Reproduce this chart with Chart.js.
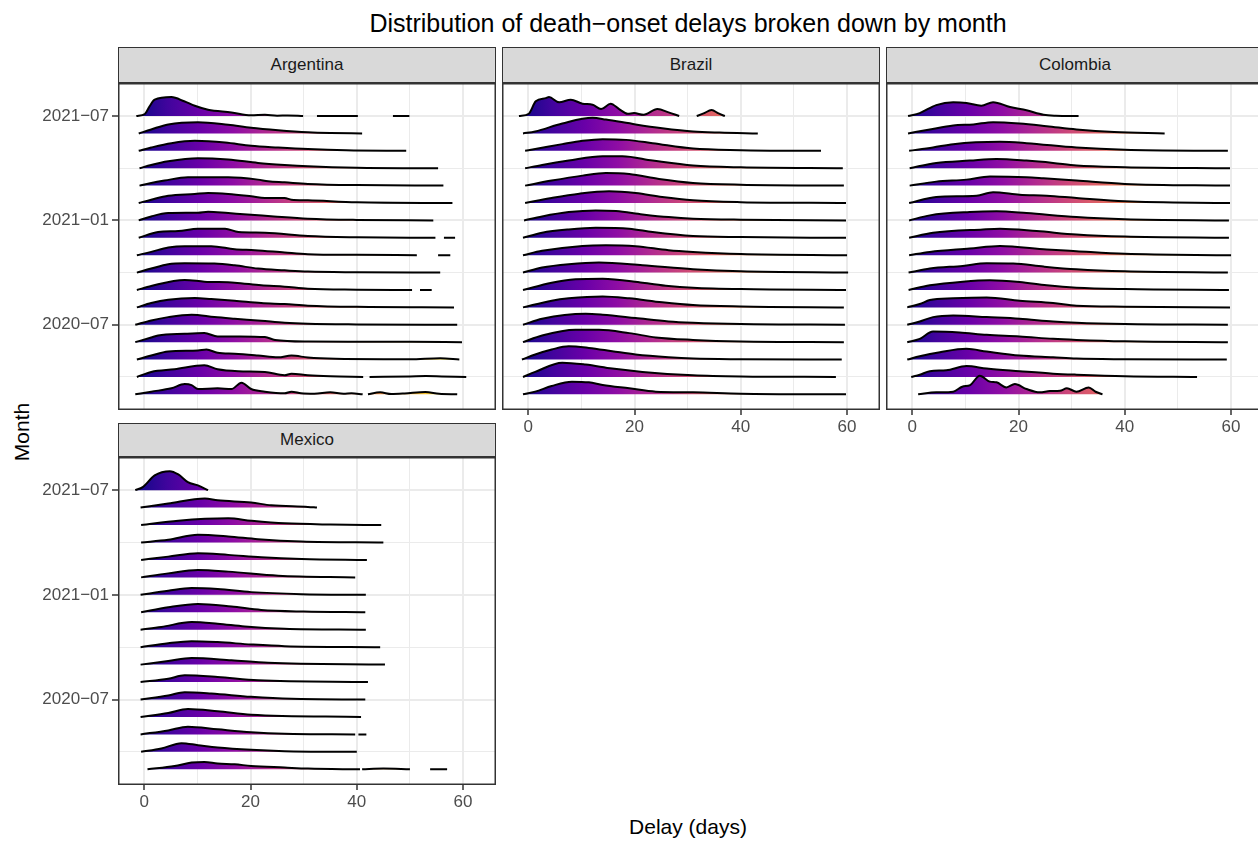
<!DOCTYPE html>
<html>
<head>
<meta charset="utf-8">
<script src="https://cdn.jsdelivr.net/npm/chart.js@4.4.1/dist/chart.umd.min.js"></script>
<style>
	html, body { margin: 0; padding: 0; background: #fff; overflow: hidden; }
	body { width: 1258px; height: 842px; position: relative; font-family: "Liberation Sans", Arial, sans-serif; }
	canvas { position: absolute; }
	.strip { position: absolute; box-sizing: border-box; background: #d9d9d9; border: 1.5px solid #333; color: #1a1a1a; font-size: 17px; display: flex; align-items: center; justify-content: center; }
	.lbl { position: absolute; white-space: nowrap; line-height: 1; transform: translate(-50%, -50%); color: #000; }
</style>
</head>
<body>
<div class="lbl" style="left:688px;top:23px;font-size:25px">Distribution of death−onset delays broken down by month</div>
<div class="lbl" style="left:688px;top:826px;font-size:21px">Delay (days)</div>
<div class="lbl" style="left:21px;top:432px;font-size:21px;transform:translate(-50%,-50%) rotate(-90deg)">Month</div>
<div class="strip" style="left:118px;top:47px;width:378px;height:36px">Argentina</div>
<div class="strip" style="left:502px;top:47px;width:378px;height:36px">Brazil</div>
<div class="strip" style="left:886px;top:47px;width:378px;height:36px">Colombia</div>
<div class="strip" style="left:118px;top:423px;width:378px;height:34px">Mexico</div>

<script>
(function () {
	'use strict';

	// one ridge per month, row 0 = 2020-03 ... row 16 = 2021-07
	var monthLabels = ['2020−03', '2020−04', '2020−05', '2020−06', '2020−07', '2020−08', '2020−09', '2020−10',
		'2020−11', '2020−12', '2021−01', '2021−02', '2021−03', '2021−04', '2021−05', '2021−06', '2021−07'];
	var monthBreaks = [4, 10, 16];
	var monthMinorBreaks = [1, 7, 13];
	var delayBreaks = [0, 20, 40, 60];
	var delayMinorBreaks = [10, 30, 50];

	// [delay in days, ridge height in rows]; a null height breaks the ridge
	var argentinaRidges = [
		[[-1.7,0],[1.3,0.155],[5.1,0.345],[7.6,0.59],[8.9,0.53],[10.1,0.305],[13.8,0.345],[16.4,0.305],[18.3,0.67],[20.1,0.305],[22.7,0.155],[26.4,0.057],[27.7,0.155],[29.5,0.057],[32,0.03],[35,0.115],[37.5,0.03],[39,0.06],[41.1,0],[41.6,null],[42.1,0],[44.4,0.115],[46.5,0.02],[49,0.05],[52.9,0.13],[55.5,0.03],[58.9,0]],
		[[-1.4,0],[1.3,0.29],[5.7,0.44],[11.3,0.67],[13.8,0.44],[17.7,0.33],[22.7,0.29],[26.4,0.10],[27.7,0.19],[30.8,0.10],[35,0.04],[41.2,0],[41.8,null],[42.4,0],[50,0.03],[53,0.05],[56,0.03],[60.6,0]],
		[[-1.4,0],[1.3,0.23],[4.5,0.46],[10.1,0.52],[11.7,0.575],[13.8,0.385],[17,0.33],[21.4,0.23],[25.2,0.13],[27.7,0.23],[30.8,0.115],[36,0.04],[45,0.02],[50,0.02],[55.7,0.08],[59.3,0]],
		[[-1.7,0],[1.3,0.27],[2.6,0.385],[7.6,0.48],[11.3,0.52],[13.8,0.33],[18,0.33],[22.7,0.29],[24.6,0.13],[30.8,0.04],[40,0.03],[50,0.02],[59.8,0]],
		[[-1.7,0],[1.3,0.25],[4.5,0.44],[8.9,0.575],[13.2,0.44],[17,0.345],[22,0.23],[26.4,0.115],[30.8,0.057],[40,0.02],[58.9,0]],
		[[-1.4,0],[1.3,0.25],[4.5,0.44],[9.5,0.535],[12.6,0.48],[17,0.385],[22,0.25],[26.4,0.19],[30.8,0.10],[40,0.03],[58.3,0]],
		[[-1.4,0],[1.3,0.23],[7.6,0.575],[11.3,0.48],[17,0.42],[22,0.27],[26.4,0.19],[30.8,0.075],[40,0.02],[50.4,0],[51.1,null],[51.9,0],[54.1,0]],
		[[-1.4,0],[1.3,0.23],[4.5,0.48],[7.6,0.535],[13.2,0.52],[17,0.42],[21.4,0.23],[26.4,0.13],[30.8,0.057],[40,0.02],[55.7,0]],
		[[-1.4,0],[1.3,0.19],[4.5,0.44],[7.6,0.52],[12.6,0.52],[17,0.345],[20.8,0.29],[26.4,0.155],[30.8,0.057],[40,0.02],[51.3,0],[53,null],[55.3,0],[57.6,0]],
		[[-1.05,0],[2.6,0.33],[6.4,0.385],[10.1,0.52],[15.2,0.52],[17.7,0.33],[22.7,0.29],[30.8,0.10],[40,0.03],[54.8,0],[55.6,null],[56.4,0],[58.5,0]],
		[[-1.05,0],[1.3,0.23],[4.5,0.42],[10.1,0.44],[12,0.50],[15.8,0.42],[20.1,0.33],[24.4,0.23],[30.8,0.10],[40,0.03],[54.4,0]],
		[[-1.05,0],[1.3,0.19],[4.5,0.42],[9.5,0.52],[12,0.575],[15.8,0.52],[20.1,0.385],[22.7,0.29],[26.4,0.29],[27.7,0.19],[30.8,0.155],[40,0.04],[58,0]],
		[[-0.9,0],[1.3,0.155],[3.8,0.29],[8.2,0.48],[15.8,0.48],[21.4,0.345],[23.3,0.25],[26.4,0.19],[30.8,0.10],[40,0.03],[56.3,0]],
		[[-0.9,0],[1.3,0.19],[4.5,0.40],[10.1,0.575],[15.8,0.50],[21.4,0.305],[26.4,0.19],[30.8,0.115],[40,0.03],[55.3,0]],
		[[-1.05,0],[1.3,0.19],[5.1,0.44],[9.5,0.575],[15.2,0.48],[20.1,0.29],[25.2,0.19],[30.8,0.10],[38,0.03],[49.3,0]],
		[[-1.05,0],[1.3,0.23],[4.5,0.52],[10.1,0.65],[15.8,0.50],[20.1,0.33],[25.2,0.19],[30.8,0.075],[35,0.03],[41,0]],
		[[-1.5,0],[0.1,0.115],[1,0.56],[1.95,0.94],[5.1,1.09],[7.5,0.85],[9.5,0.59],[12,0.36],[16.4,0.21],[20.1,0.04],[22.7,0.075],[25,0.02],[27,0.03],[29.9,0],[31.2,null],[32.5,0],[40.2,0],[43.5,null],[46.8,0],[49.9,0]]
	];

	var brazilRidges = [
		[[-1,0],[1.3,0.155],[4.4,0.48],[8.2,0.73],[11.4,0.69],[14,0.535],[19,0.345],[24,0.155],[31,0.115],[40,0.04],[59.8,0]],
		[[-1,0],[1.3,0.29],[6.4,0.82],[10.8,0.71],[15.8,0.48],[21.5,0.29],[31,0.10],[40,0.03],[57.9,0]],
		[[-1.2,0],[1.3,0.29],[4.4,0.575],[7.6,0.765],[11.4,0.67],[15.8,0.48],[20.2,0.29],[26.4,0.13],[31,0.057],[40,0.02],[59,0]],
		[[-1,0],[2.6,0.385],[8.9,0.71],[13.3,0.71],[19,0.52],[24,0.27],[31,0.13],[40,0.04],[59.4,0]],
		[[-1,0],[2.6,0.345],[10.8,0.63],[14,0.575],[20.2,0.385],[26.4,0.19],[31,0.115],[40,0.04],[59.6,0]],
		[[-1,0],[4.4,0.385],[7.6,0.52],[14,0.63],[19,0.52],[25.2,0.29],[31,0.13],[40,0.05],[59.4,0]],
		[[-1,0],[4.4,0.42],[8.9,0.615],[14,0.65],[21.5,0.42],[26.4,0.23],[31,0.13],[40,0.05],[59.8,0]],
		[[-1,0],[2.6,0.29],[7.6,0.48],[13.3,0.575],[21.5,0.42],[31,0.19],[40,0.07],[60.2,0]],
		[[-1,0],[2.6,0.25],[10.2,0.535],[14.6,0.575],[20.2,0.52],[26.4,0.29],[31,0.19],[40,0.07],[60,0]],
		[[-1,0],[2.6,0.29],[7.6,0.48],[12.7,0.575],[19,0.52],[23.4,0.33],[31,0.10],[40,0.04],[59.8,0]],
		[[-0.8,0],[2.6,0.23],[7.6,0.48],[12.7,0.575],[16.5,0.535],[21.5,0.345],[26.4,0.19],[31,0.10],[40,0.04],[59.8,0]],
		[[-0.6,0],[4.4,0.29],[9.6,0.535],[15.2,0.67],[20.2,0.575],[25.2,0.345],[31,0.155],[40,0.05],[59.8,0]],
		[[-0.6,0],[4.4,0.29],[10.2,0.575],[14.6,0.73],[19,0.67],[24.6,0.385],[31,0.155],[40,0.05],[59.4,0]],
		[[-0.6,0],[2.6,0.19],[7.6,0.44],[14,0.69],[17.7,0.69],[23.4,0.44],[31,0.155],[40,0.05],[59.2,0]],
		[[-0.6,0],[1.3,0.10],[6.4,0.385],[10.2,0.575],[14,0.67],[18.4,0.63],[23.4,0.44],[31,0.13],[40,0.04],[55.1,0]],
		[[-1.0,0],[1.3,0.115],[6.4,0.575],[12.1,0.90],[14.6,0.80],[20.2,0.52],[25.2,0.305],[31,0.115],[36,0.05],[43.2,0]],
		[[-1.76,0],[0.1,0.13],[1.4,0.845],[3.3,1.03],[3.9,1.09],[5.8,0.79],[8,0.94],[10.2,0.71],[12.1,0.65],[13.7,0.40],[15.5,0.71],[17.1,0.40],[18.7,0.13],[19.9,0.17],[21.7,0.075],[24.3,0.40],[26.4,0.21],[28.4,0],[30.5,null],[31.7,0],[33,0.15],[34.5,0.345],[35.8,0.15],[37,0]]
	];

	var colombiaRidges = [
		[[1.1,0],[4.5,0.115],[7.7,0.155],[9.4,0.44],[10.9,0.535],[12.7,1.075],[14.6,0.73],[15.85,0.69],[17.7,0.40],[19.3,0.59],[21.5,0.305],[24,0.115],[25.9,0.19],[27.8,0.21],[29.1,0.345],[30.9,0.155],[33.2,0.40],[34.5,0.15],[35.8,0]],
		[[-0.2,0],[1.4,0.13],[3.3,0.33],[6.4,0.385],[10.2,0.63],[14,0.48],[20.2,0.33],[26.5,0.19],[30.9,0.13],[40,0.04],[53.6,0]],
		[[-0.95,0],[1.4,0.19],[5.2,0.42],[10.2,0.615],[14,0.46],[20.2,0.23],[26.5,0.13],[30.9,0.057],[40,0.02],[59.2,0]],
		[[-0.95,0],[1.4,0.19],[3.9,0.615],[8.9,0.56],[14,0.42],[20.2,0.33],[26.5,0.19],[30.9,0.13],[40,0.05],[59.4,0]],
		[[-0.95,0],[1.4,0.19],[3.9,0.44],[7.7,0.535],[14,0.44],[20.2,0.345],[26.5,0.19],[30.9,0.115],[40,0.04],[59.4,0]],
		[[-0.95,0],[1.4,0.19],[3.3,0.42],[7.7,0.52],[14,0.575],[20.2,0.385],[26.5,0.25],[30.9,0.10],[40,0.04],[59.8,0]],
		[[-0.7,0],[3.3,0.27],[9.5,0.48],[14.6,0.56],[20.2,0.46],[25.3,0.27],[30.9,0.13],[40,0.05],[59.6,0]],
		[[-0.7,0],[3.3,0.23],[9.5,0.385],[14,0.535],[19,0.52],[24.7,0.345],[30.9,0.19],[40,0.07],[59.4,0]],
		[[-0.6,0],[3.3,0.19],[10.8,0.385],[16.5,0.535],[25.3,0.33],[30.9,0.23],[40,0.08],[60,0]],
		[[-0.6,0],[3.9,0.29],[13.3,0.48],[16.5,0.52],[23.4,0.385],[30.9,0.19],[40,0.07],[59.6,0]],
		[[-0.6,0],[3.3,0.29],[10.8,0.48],[15.85,0.52],[21.5,0.42],[30.9,0.19],[40,0.07],[59.6,0]],
		[[-0.6,0],[4.5,0.345],[12.1,0.42],[15.2,0.615],[20.2,0.48],[25.3,0.42],[30.9,0.29],[40,0.1],[59.8,0]],
		[[-0.5,0],[4.5,0.23],[10.2,0.345],[14.6,0.52],[21.5,0.48],[24.7,0.42],[30.9,0.29],[40,0.1],[59.8,0]],
		[[-0.5,0],[4.5,0.305],[10.8,0.44],[15.85,0.535],[21.5,0.44],[26.5,0.305],[30.9,0.155],[40,0.06],[59.8,0]],
		[[-0.6,0],[3.9,0.19],[7.7,0.385],[16.5,0.52],[21.5,0.44],[30.9,0.19],[40,0.06],[59.4,0]],
		[[-0.8,0],[3.3,0.23],[7.7,0.46],[11.5,0.52],[15.2,0.65],[20.2,0.575],[25.3,0.42],[30.9,0.23],[38,0.08],[47.5,0]],
		[[-0.8,0],[1.4,0.17],[4.5,0.63],[7.7,0.79],[10.2,0.75],[13,0.59],[15.2,0.80],[18.4,0.52],[21.5,0.33],[24.7,0.075],[27,0.02],[31.3,0]]
	];

	var mexicoRidges = [
		[[0.6,0],[5.7,0.19],[8.9,0.385],[11.3,0.42],[13.8,0.33],[17,0.29],[20.1,0.19],[26.4,0.10],[30.8,0.04],[40.6,0],[40.8,null],[41,0],[45,0.04],[50,0],[52,null],[53.8,0],[57,0]],
		[[-0.6,0],[3.2,0.19],[7,0.50],[10.1,0.385],[13.8,0.25],[20.1,0.115],[26.4,0.04],[40,0]],
		[[-0.7,0],[4.5,0.23],[8.2,0.44],[13.8,0.29],[20.1,0.13],[26.4,0.04],[39.7,0],[40,null],[40.3,0],[41.8,0]],
		[[-0.7,0],[4.5,0.23],[8.2,0.46],[13.8,0.33],[20.1,0.13],[40.8,0]],
		[[-0.7,0],[4.5,0.23],[7.6,0.42],[12.6,0.345],[20.1,0.155],[27.7,0.04],[41.6,0]],
		[[-0.7,0],[4.5,0.19],[7.6,0.385],[13.8,0.29],[21.4,0.10],[42.1,0]],
		[[-0.7,0],[4.5,0.21],[8.9,0.385],[16.4,0.25],[23.3,0.10],[45.3,0]],
		[[-0.7,0],[4.5,0.23],[8.9,0.345],[13.8,0.29],[20.1,0.155],[26.4,0.057],[44.4,0]],
		[[-0.7,0],[3.2,0.155],[8.9,0.44],[13.8,0.345],[18.9,0.19],[26.4,0.057],[41.7,0]],
		[[-0.6,0],[4.5,0.29],[10.1,0.48],[16.4,0.33],[22,0.13],[30,0.04],[41.6,0]],
		[[-0.7,0],[4.5,0.23],[8.9,0.385],[13.8,0.33],[20.1,0.155],[29.6,0.04],[41.7,0]],
		[[-0.6,0],[4.5,0.23],[10.1,0.42],[15.8,0.33],[25.2,0.10],[39.7,0]],
		[[-0.6,0],[4.5,0.19],[10.1,0.385],[15.8,0.29],[22,0.155],[29.6,0.057],[41.9,0]],
		[[-0.6,0],[4.5,0.155],[10.1,0.44],[15.8,0.345],[21.4,0.19],[29.6,0.057],[45,0]],
		[[-0.6,0],[6.4,0.25],[15.8,0.385],[20.1,0.25],[26.4,0.10],[35,0.03],[44.6,0]],
		[[-0.7,0],[4.5,0.23],[11.4,0.52],[13.8,0.42],[20.1,0.29],[23.9,0.13],[30.8,0.04],[32.5,0]],
		[[-1.7,0],[-0.3,0.17],[1.95,0.845],[4.8,1.09],[6.4,0.90],[8.2,0.46],[10.1,0.27],[12,0]]
	];

	// plasma colour map, spread over the delay range
	var PLASMA = ['#0d0887', '#41049d', '#6a00a8', '#8f0da4', '#b12a90', '#cc4778',
		'#e16462', '#f2844b', '#fca636', '#fcce25', '#f0f921'];
	var FILL_LIMITS = [-1.8, 60.6];

	Chart.defaults.font.family = '"Liberation Sans", Arial, sans-serif';
	Chart.defaults.font.size = 17;
	Chart.defaults.color = '#4d4d4d';

	var GRID = '#ebebeb';
	var AXIS = '#333333';

	function plasmaFill(ctx) {
		var chart = ctx.chart;
		if (!chart.chartArea) return 'rgba(0,0,0,0)';
		var xs = chart.scales.x;
		var g = chart.ctx.createLinearGradient(xs.getPixelForValue(FILL_LIMITS[0]), 0, xs.getPixelForValue(FILL_LIMITS[1]), 0);
		PLASMA.forEach(function (c, k) { g.addColorStop(k / (PLASMA.length - 1), c); });
		return g;
	}

	function ridgeDatasets(ridges) {
		return ridges.map(function (pts, row) {
			return {
				data: pts.map(function (p) { return { x: p[0], y: p[1] === null ? null : row + p[1] }; }),
				fill: { value: row },
				backgroundColor: plasmaFill,
				borderColor: '#000',
				borderWidth: 2,
				pointRadius: 0,
				cubicInterpolationMode: 'monotone',
				spanGaps: false
			};
		});
	}

	function isIn(list, v) {
		return list.indexOf(v) !== -1;
	}

	// axes keep a fixed size so every panel lines up; no label overhang padding
	function fixSize(prop, size) {
		return function (s) {
			s[prop] = size;
			s.paddingTop = 0;
			s.paddingBottom = 0;
			s.paddingLeft = 0;
			s.paddingRight = 0;
		};
	}

	var panelFrame = {
		id: 'panelFrame',
		afterDraw: function (chart) {
			var a = chart.chartArea, c = chart.ctx;
			c.save();
			c.strokeStyle = AXIS;
			c.lineWidth = 1.5;
			c.strokeRect(a.left + 0.75, a.top + 0.75, a.width - 1.5, a.height - 1.5);
			c.restore();
		}
	};

	function createPanel(p) {
		var el = document.createElement('canvas');
		el.width = p.width;
		el.height = p.height;
		el.style.left = p.left + 'px';
		el.style.top = p.top + 'px';
		document.body.appendChild(el);

		return new Chart(el, {
			type: 'line',
			data: { datasets: ridgeDatasets(p.ridges) },
			plugins: [panelFrame],
			options: {
				responsive: false,
				animation: false,
				events: [],
				layout: { padding: 0 },
				plugins: { legend: { display: false }, tooltip: { enabled: false } },
				scales: {
					x: {
						type: 'linear',
						min: -4.95,
						max: 66.2,
						afterBuildTicks: function (s) {
							s.ticks = delayBreaks.concat(delayMinorBreaks).sort(function (a, b) { return a - b; })
								.map(function (v) { return { value: v }; });
						},
						afterFit: fixSize('height', p.xAxisH),
						ticks: {
							display: p.showX,
							autoSkip: false,
							maxRotation: 0,
							padding: 2,
							callback: function (v) { return isIn(delayBreaks, v) ? String(v) : ''; }
						},
						grid: {
							color: GRID,
							lineWidth: function (c) { return isIn(delayBreaks, c.tick.value) ? 2 : 1; },
							drawTicks: p.showX,
							tickLength: 5,
							tickWidth: 1.5,
							tickColor: function (c) { return isIn(delayBreaks, c.tick.value) ? AXIS : 'rgba(0,0,0,0)'; }
						},
						border: { display: false }
					},
					y: {
						type: 'linear',
						min: -0.9,
						max: 17.9,
						afterBuildTicks: function (s) {
							s.ticks = monthMinorBreaks.concat(monthBreaks).sort(function (a, b) { return a - b; })
								.map(function (v) { return { value: v }; });
						},
						afterFit: fixSize('width', p.yAxisW),
						ticks: {
							display: p.showY,
							autoSkip: false,
							padding: 3,
							callback: function (v) { return isIn(monthBreaks, v) ? monthLabels[v] : ''; }
						},
						grid: {
							color: GRID,
							lineWidth: function (c) { return isIn(monthBreaks, c.tick.value) ? 2 : 1; },
							drawTicks: p.showY,
							tickLength: 6,
							tickWidth: 1.5,
							tickColor: function (c) { return isIn(monthBreaks, c.tick.value) ? AXIS : 'rgba(0,0,0,0)'; }
						},
						border: { display: false }
					}
				}
			}
		});
	}

	[
		{ ridges: argentinaRidges, left: 0, top: 83, width: 496, height: 327, yAxisW: 118, xAxisH: 0, showY: true, showX: false },
		{ ridges: brazilRidges, left: 502, top: 83, width: 378, height: 359, yAxisW: 0, xAxisH: 32, showY: false, showX: true },
		{ ridges: colombiaRidges, left: 886, top: 83, width: 378, height: 359, yAxisW: 0, xAxisH: 32, showY: false, showX: true },
		{ ridges: mexicoRidges, left: 0, top: 457, width: 496, height: 360, yAxisW: 118, xAxisH: 32, showY: true, showX: true }
	].forEach(createPanel);
})();
</script>
</body>
</html>
